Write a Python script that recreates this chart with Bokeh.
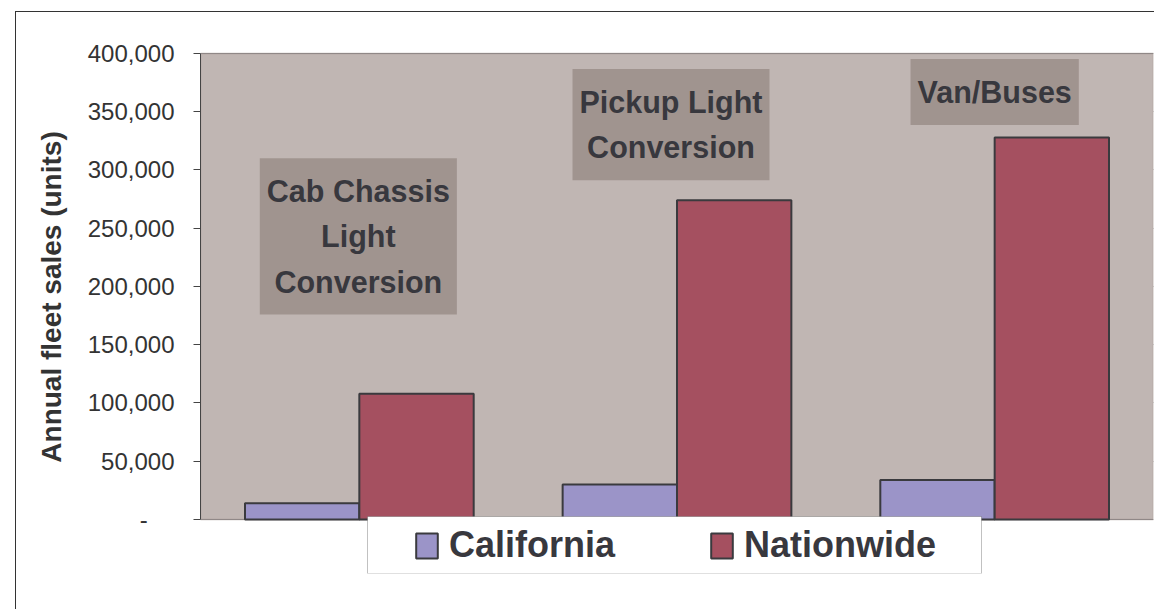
from bokeh.plotting import figure
from bokeh.models import (ColumnDataSource, Range1d, FactorRange, FixedTicker,
                          NumeralTickFormatter, Legend, LegendItem, BoxAnnotation)
from bokeh.transform import dodge
from bokeh.core.properties import value
from bokeh.embed import file_html
from bokeh.resources import INLINE

# ---- data ----
categories = ["Cab Chassis Light Conversion", "Pickup Light Conversion", "Van/Buses"]
category_labels = ["Cab Chassis\nLight\nConversion", "Pickup Light\nConversion", "Van/Buses"]
california = [14000, 30000, 34000]
nationwide = [108000, 274000, 328000]
y_ticks = [0, 50000, 100000, 150000, 200000, 250000, 300000, 350000, 400000]
series_names = ["California", "Nationwide"]
y_title = "Annual fleet sales (units)"

# ---- layout constants (where the category captions sit) ----
label_y_pos = [243000, 339000, 367000]
label_x_shift_px = [-1, -6, 0]

FONT = "Liberation Sans"
TXT = "#38383E"

src = ColumnDataSource(dict(cat=categories, ca=california, nw=nationwide,
                            lab=category_labels, ly=label_y_pos, lx=label_x_shift_px))

W, H = 1139, 598
p = figure(width=W, height=H, output_backend="svg", toolbar_location=None,
           x_range=FactorRange(*categories, range_padding=0),
           y_range=Range1d(-46352, 428326),
           min_border_left=184, min_border_right=2, min_border_top=8,
           min_border_bottom=37)
# outer chart frame (only its top and left edges fall inside the window)
p.styles = {"margin-left": "15px", "margin-top": "11px",
            "border-left": "1px solid #333333", "border-top": "1px solid #333333"}

p.background_fill_color = "white"
p.border_fill_color = "white"
p.outline_line_color = None

# plot area (value range 0 .. 400,000)
plot_area = BoxAnnotation(bottom=y_ticks[0], top=y_ticks[-1],
                          fill_color="#C0B6B3", fill_alpha=1,
                          line_color="#9E9390", line_width=2, level="underlay")
p.add_layout(plot_area)

r_ca = p.vbar(x=dodge("cat", -0.18, range=p.x_range), top="ca", width=0.36,
              source=src, fill_color="#9B94C8", line_color="#3A3A3E", line_width=2)
r_nw = p.vbar(x=dodge("cat", 0.18, range=p.x_range), top="nw", width=0.36,
              source=src, fill_color="#A55060", line_color="#3A3A3E", line_width=2)

p.text(x="cat", y="ly", text="lab", source=src, x_offset="lx",
       text_font=value(FONT), text_font_style="bold", text_font_size="30.5px",
       text_color=TXT, text_align="center", text_baseline="middle",
       text_line_height=1.33, background_fill_color="#A0948F",
       padding=dict(left=7, right=7, top=16, bottom=16))

# axes
p.xaxis.visible = False
p.xgrid.visible = False
ya = p.yaxis[0]
ya.bounds = (y_ticks[0], y_ticks[-1])
ya.ticker = FixedTicker(ticks=y_ticks)
ya.formatter = NumeralTickFormatter(format="0,0")
ya.major_label_overrides = {0: "-\u00a0\u00a0\u00a0\u00a0"}
ya.major_label_text_font = FONT
ya.major_label_text_font_size = "24px"
ya.major_label_text_color = "#333333"
ya.major_label_standoff = 19
ya.axis_line_color = "#444444"
ya.major_tick_line_color = "#444444"
ya.major_tick_out = 7
ya.major_tick_in = 0
ya.minor_tick_line_color = None
ya.axis_label = y_title
ya.axis_label_text_font = FONT
ya.axis_label_text_font_style = "bold"
ya.axis_label_text_font_size = "28px"
ya.axis_label_text_color = "#333333"
ya.axis_label_standoff = 18

p.ygrid.ticker = FixedTicker(ticks=y_ticks)
p.ygrid.grid_line_color = "#555555"
p.ygrid.grid_line_width = 1

# legend background box
leg_box = BoxAnnotation(left=350, right=964, top=503, bottom=560,
                        left_units="canvas", right_units="canvas",
                        top_units="canvas", bottom_units="canvas",
                        fill_color="white", fill_alpha=1,
                        line_color="#333333", line_width=1)
p.add_layout(leg_box)

legend = Legend(items=[LegendItem(label=series_names[0], renderers=[r_ca]),
                       LegendItem(label=series_names[1], renderers=[r_nw])],
                orientation="horizontal", location=(213, 7), margin=0,
                padding=8, spacing=93, label_standoff=9,
                glyph_width=27, glyph_height=31,
                label_text_font=FONT, label_text_font_style="bold",
                label_text_font_size="36px", label_text_color=TXT,
                background_fill_alpha=0, border_line_color=None)
p.add_layout(legend, "center")

open("out.html", "w").write(file_html(p, INLINE))
